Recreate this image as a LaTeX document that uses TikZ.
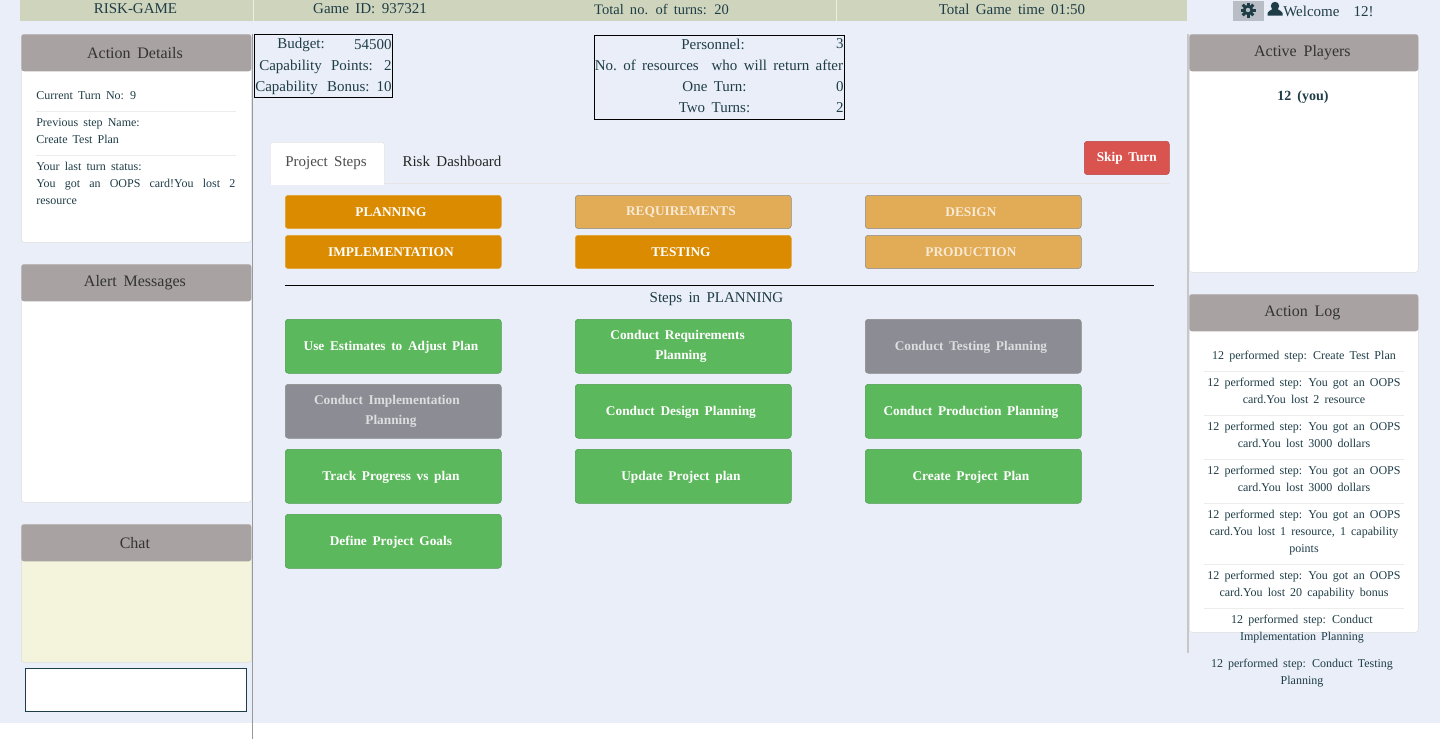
\documentclass[tikz,border=0pt]{standalone}
\usepackage{fontspec}
\setmainfont[WordSpace=1.7]{Liberation Serif}
\definecolor{pagebg}{HTML}{E9EEF8}
\definecolor{barbg}{HTML}{CFD5BD}
\definecolor{headbg}{HTML}{A8A2A2}
\definecolor{panelline}{HTML}{DDDDDD}
\definecolor{inktxt}{HTML}{1F3D47}
\definecolor{gearbg}{HTML}{B9BEC6}
\definecolor{phaseon}{HTML}{DB8B00}
\definecolor{phaseoff}{HTML}{E2AB55}
\definecolor{stepon}{HTML}{5CB85C}
\definecolor{stepoff}{HTML}{8C8C94}
\definecolor{skipred}{HTML}{D9534F}
\definecolor{chatbg}{HTML}{F4F4DC}
\tikzset{
  bartxt/.style={font=\fontsize{11.25}{13}\selectfont, text=inktxt, inner sep=0pt},
  paneltxt/.style={font=\fontsize{9}{12.75}\selectfont, text=inktxt, inner sep=0pt, align=center},
  tabletxt/.style={font=\fontsize{11.25}{13}\selectfont, text=inktxt, inner sep=0pt},
  tabtxt/.style={font=\fontsize{11.25}{13}\selectfont, inner sep=0pt},
  leftpanel/.style={draw=panelline, fill=white, rounded corners=2pt, anchor=north west,
                    minimum width=172.5pt, inner sep=0pt},
  rightpanel/.style={leftpanel, minimum width=171.75pt},
  panelhead/.style={fill=headbg, rounded corners=2pt, anchor=north west, minimum width=172.5pt,
                    minimum height=27.75pt, inner sep=0pt, text=black!80,
                    font=\fontsize{12}{14}\selectfont, execute at end node={\hspace*{2pt}}},
  righthead/.style={panelhead, minimum width=171.75pt},
  phasebtn/.style={fill=phaseon, draw=phaseon!80!white, rounded corners=2.25pt, anchor=north west,
                   minimum width=162pt, minimum height=25pt, inner sep=0pt, text=white,
                   font=\fontsize{10}{12}\selectfont\bfseries, execute at end node={\hspace*{3.5pt}}},
  phaseoffbtn/.style={phasebtn, fill=phaseoff, draw=black!45, text=white!75!phaseoff},
  stepbtn/.style={phasebtn, fill=stepon, draw=stepon!85!black, minimum height=40.5pt, align=center,
                  font=\fontsize{10}{15}\selectfont\bfseries, execute at begin node={\rule{0pt}{9pt}}},
  stepoffbtn/.style={stepbtn, fill=stepoff, draw=black!45, text=white!70!stepoff},
  logrule/.style={draw=black!7, line width=.75pt},
}

\begin{document}
\begin{tikzpicture}[x=.75pt, y=-.75pt]
  \useasboundingbox (0,0) rectangle (1440,739);
  \fill[pagebg] (0,0) rectangle (1440,723);

  \fill[barbg] (20,0) rectangle (1187,21);
  \draw[white!60!barbg, line width=.5pt] (253.5,0) -- (253.5,21) (836.5,0) -- (836.5,21);
  \node[bartxt] (brand) at (135.5,9) {RISK-GAME};
  \node[bartxt] (gameid) at (370,9) {Game ID: 937321};
  \node[bartxt, font=\fontsize{10.9}{13}\selectfont] (turns) at (661.5,9) {Total no. of turns: 20};
  \node[bartxt] (gametime) at (1012,9) {Total Game time 01:50};

  \node[fill=gearbg, minimum width=23.25pt, minimum height=15pt, inner sep=0pt] (gear) at (1248.5,11) {};
  \foreach \a in {0,45,...,315}
    \draw[inktxt, line width=2.25pt] (1248,10) ++(\a:3) -- ++(\a:4.5);
  \fill[inktxt] (1248,10) circle (5.2);
  \fill[gearbg] (1248,10) circle (2.2);
  \fill[inktxt] (1275,6) circle (4.2) (1267.5,15.5) -- (1267.5,13) .. controls (1268,10.5) and (1271,11) .. (1272.5,9)
    -- (1277.5,9) .. controls (1279,11) and (1282,10.5) .. (1282.5,13) -- (1282.5,15.5) -- cycle;
  \node[bartxt, anchor=west] (welcome) at (1283,11) {Welcome\hspace{10.5pt}12!};

  \draw[black!40, line width=.75pt] (252.5,34) -- (252.5,739);
  \draw[black!22, line width=1.5pt] (1187.5,34) -- (1187.5,653);

  \node[leftpanel, minimum height=156pt] (detailsbody) at (21,34) {};
  \node[panelhead] (detailshead) at (21,34) {Action Details};
  \node[paneltxt, anchor=west] (curturn) at (36,96) {Current Turn No: 9};
  \draw[logrule] (36,111.5) -- (236,111.5);
  \node[paneltxt, anchor=west, align=left] (prevstep) at (36,131.5) {Previous step Name:\\Create Test Plan};
  \draw[logrule] (36,155.5) -- (236,155.5);
  \node[paneltxt, anchor=north west, align=justify, text width=149.25pt] (laststatus) at (36,161.5)
    {Your last turn status:\\You got an OOPS card!You lost 2\linebreak resource};

  \node[leftpanel, minimum height=178.5pt] (alertbody) at (21,264) {};
  \node[panelhead] (alerthead) at (21,264) {Alert Messages};

  \node[leftpanel, fill=chatbg, minimum height=103.5pt] (chatbody) at (21,524) {};
  \node[panelhead] (chathead) at (21,524) {Chat};
  \node[draw=inktxt, fill=white, anchor=north west, line width=.75pt, minimum width=166pt,
        minimum height=32.25pt, inner sep=0pt] (chatinput) at (25,668) {};

  \node[rightpanel, minimum height=178.5pt] (playersbody) at (1189,34) {};
  \node[righthead] (playershead) at (1189,34) {Active Players};
  \node[paneltxt, font=\fontsize{10.5}{13}\selectfont\bfseries] (you) at (1303,97.5) {12 (you)};

  \node[rightpanel, minimum height=253.5pt] (logbody) at (1189,294) {};
  \node[righthead] (loghead) at (1189,294) {Action Log};
  \node[paneltxt] (log1) at (1304,357) {12 performed step: Create Test Plan};
  \node[paneltxt] (log2) at (1304,390.5) {12 performed step: You got an OOPS\\card.You lost 2 resource};
  \node[paneltxt] (log3) at (1304,434.5) {12 performed step: You got an OOPS\\card.You lost 3000 dollars};
  \node[paneltxt] (log4) at (1304,478.5) {12 performed step: You got an OOPS\\card.You lost 3000 dollars};
  \node[paneltxt] (log5) at (1304,533) {12 performed step: You got an OOPS\\card.You lost 1 resource, 1 capability\\points};
  \node[paneltxt] (log6) at (1304,585.5) {12 performed step: You got an OOPS\\card.You lost 20 capability bonus};
  \node[paneltxt] (log7) at (1302,629.5) {12 performed step: Conduct\\Implementation Planning};
  \node[paneltxt] (log8) at (1302,673.5) {12 performed step: Conduct Testing\\Planning};
  \draw[logrule] (1204,371.5) -- (1404,371.5) (1204,415.5) -- (1404,415.5) (1204,459.5) -- (1404,459.5)
    (1204,503.5) -- (1404,503.5) (1204,564.5) -- (1404,564.5) (1204,608.5) -- (1404,608.5);

  \node[draw=black, line width=.75pt, anchor=north west, minimum width=103.5pt, minimum height=47.25pt,
        inner sep=0pt] (budgetbox) at (254,34) {};
  \node[tabletxt] (budgetlab) at (301,44.5) {Budget:};
  \node[tabletxt, anchor=east] (budgetval) at (392,44.5) {54500};
  \node[tabletxt, anchor=west] (pointslab) at (259,67) {Capability\hspace{7pt}Points:};
  \node[tabletxt, anchor=east] (pointsval) at (392,66) {2};
  \node[tabletxt, anchor=west] (bonuslab) at (255,88) {Capability\hspace{7pt}Bonus:};
  \node[tabletxt, anchor=east] (bonusval) at (392,87) {10};

  \node[draw=black, line width=.75pt, anchor=north west, minimum width=187.5pt, minimum height=63pt,
        inner sep=0pt] (staffbox) at (594,35) {};
  \node[tabletxt] (stafflab) at (713,44) {Personnel:};
  \node[tabletxt, anchor=east] (staffval) at (844,44) {3};
  \node[tabletxt] (returnlab) at (719,65) {No.\ of resources \ who will return after};
  \node[tabletxt] (onelab) at (714.5,87) {One Turn:};
  \node[tabletxt, anchor=east] (oneval) at (844,87) {0};
  \node[tabletxt] (twolab) at (714.5,108) {Two Turns:};
  \node[tabletxt, anchor=east] (twoval) at (844,108) {2};

  \draw[black!10, line width=.75pt] (270,183.5) -- (1170,183.5);
  \node[fill=white, draw=black!10, rounded corners=2pt, anchor=north west, minimum width=85.5pt,
        minimum height=31.5pt, inner sep=0pt] (projtabbox) at (270,142) {};
  \fill[white] (270.5,180) rectangle (384,185);
  \node[tabtxt, text=black!70] (projtab) at (326,163) {Project Steps};
  \node[tabtxt, text=black!85] (risktab) at (452,161.5) {Risk Dashboard};
  \node[fill=skipred, draw=skipred!85!black, rounded corners=2.25pt, anchor=north west, minimum width=63.75pt,
        minimum height=25pt, inner sep=0pt, text=white, font=\fontsize{10}{13}\selectfont\bfseries] (skip) at (1084,141) {Skip Turn};

  \node[phasebtn] (planning) at (285,195) {PLANNING};
  \node[phaseoffbtn] (reqs) at (575,195) {REQUIREMENTS};
  \node[phaseoffbtn] (design) at (865,195) {DESIGN};
  \node[phasebtn] (impl) at (285,235) {IMPLEMENTATION};
  \node[phasebtn] (testing) at (575,235) {TESTING};
  \node[phaseoffbtn] (prod) at (865,235) {PRODUCTION};

  \draw[black, line width=.75pt] (285,285.5) -- (1154,285.5);
  \node[inner sep=0pt, text=inktxt, font=\fontsize{11.25}{13}\selectfont] (stepstitle) at (716.5,299.5) {Steps in PLANNING};

  \node[stepbtn] (estimates) at (285,319) {Use Estimates to Adjust Plan};
  \node[stepbtn] (reqplan) at (575,319) {Conduct Requirements\hspace*{5pt}\\Planning};
  \node[stepoffbtn] (testplan) at (865,319) {Conduct Testing Planning};
  \node[stepoffbtn] (implplan) at (285,384) {Conduct Implementation\hspace*{6pt}\\Planning};
  \node[stepbtn] (designplan) at (575,384) {Conduct Design Planning};
  \node[stepbtn] (prodplan) at (865,384) {Conduct Production Planning};
  \node[stepbtn] (progress) at (285,449) {Track Progress vs plan};
  \node[stepbtn] (updplan) at (575,449) {Update Project plan};
  \node[stepbtn] (creplan) at (865,449) {Create Project Plan};
  \node[stepbtn] (goals) at (285,514) {Define Project Goals};
\end{tikzpicture}
\end{document}
